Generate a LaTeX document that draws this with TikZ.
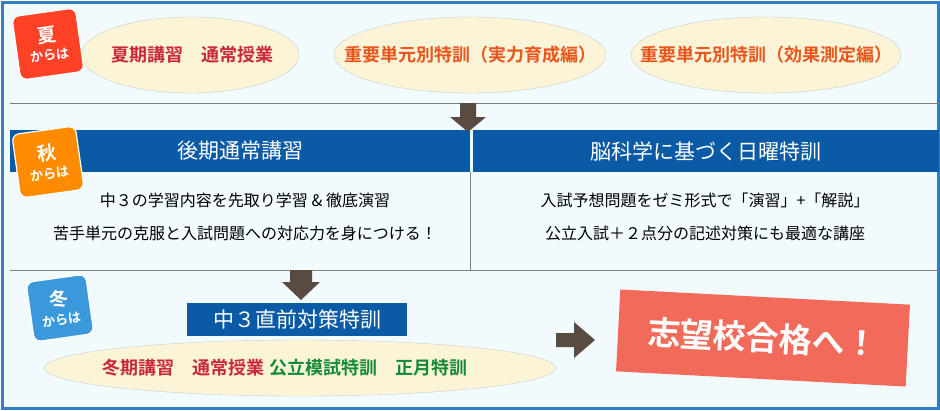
\documentclass[tikz,border=0pt]{standalone}
\usepackage{fontspec}
\newfontfamily\jp{Noto Sans CJK JP}[BoldFont={Noto Sans CJK JP Bold}]
\usetikzlibrary{shapes.geometric,positioning,calc}
\definecolor{bgblue}{HTML}{F1FAFD}
\definecolor{frameblue}{HTML}{2F7FC8}
\definecolor{barblue}{HTML}{0A5AA5}
\definecolor{cream}{HTML}{FCF4D6}
\definecolor{redtxt}{HTML}{C8283A}
\definecolor{orangetxt}{HTML}{E8551F}
\definecolor{greentxt}{HTML}{138A3A}
\definecolor{arrowbrown}{HTML}{594A42}
\definecolor{goalred}{HTML}{F26A5A}
\tikzset{
  oval/.style={fill=cream, draw=gray!40},
  ovaltext/.style={font=\jp\bfseries\fontsize{18}{18}\selectfont, inner sep=0pt},
  bar/.style={fill=barblue, text=white, font=\jp\fontsize{21}{21}\selectfont, inner sep=0pt},
  info/.style={font=\jp\fontsize{16}{16}\selectfont},
  badge/.style={rounded corners=7pt, minimum size=64pt, rotate=8, text=white, align=center, inner sep=0pt, font=\jp\bfseries\fontsize{19}{19}\selectfont, draw=white, line width=1.2pt},
  bigarrow/.style={fill=arrowbrown, draw=none},
}
\begin{document}
\begin{tikzpicture}[x=1pt,y=-1pt]
\useasboundingbox (0,0) rectangle (940,410);
\draw[frameblue, line width=3pt, fill=bgblue] (2,2) rectangle (938,408);
% summer
\path[oval] (190,55) ellipse (109 and 38);
\path[oval] (470,55) ellipse (136 and 38);
\path[oval] (766,55) ellipse (135 and 38);
\node[ovaltext, text=redtxt] (summer1) at (192,55) {夏期講習\quad 通常授業};
\node[ovaltext, text=orangetxt] (summer2) at (470,55) {重要単元別特訓（実力育成編）};
\node[ovaltext, text=orangetxt] (summer3) at (766,55) {重要単元別特訓（効果測定編）};
\node[badge, fill=red!75!orange!85] (natsu) at (48,44) {夏\\[-1pt]{\fontsize{13}{13}\selectfont からは}};
\draw[gray] (10,103) -- (940,103);
% autumn
\node[bar, minimum width=460pt, minimum height=42pt] (autumnL) at (240,151) {後期通常講習};
\node[bar, minimum width=466pt, minimum height=42pt] (autumnR) at (706,151) {脳科学に基づく日曜特訓};
\fill[bigarrow] (460,103) -- (476,103) -- (476,117) -- (486,117) -- (468,132) -- (450,117) -- (460,117) -- cycle;
\node[badge, fill=orange!90!yellow] (aki) at (48,162) {秋\\[-1pt]{\fontsize{13}{13}\selectfont からは}};
\node[info] (a1) at (245,200) {中３の学習内容を先取り学習 \& 徹底演習};
\node[info] (a2) at (245,233) {苦手単元の克服と入試問題への対応力を身につける！};
\node[info] (b1) at (705,200) {入試予想問題をゼミ形式で「演習」+「解説」};
\node[info] (b2) at (705,233) {公立入試＋２点分の記述対策にも最適な講座};
\draw[gray] (470,172) -- (470,270);
\draw[gray] (10,270) -- (940,270);
% winter
\fill[bigarrow] (290,270) -- (312,270) -- (312,282) -- (320,282) -- (301,300) -- (282,282) -- (290,282) -- cycle;
\node[bar, minimum width=220pt, minimum height=33pt] (winterbar) at (297,319) {中３直前対策特訓};
\node[badge, fill=cyan!70!blue!80, minimum size=60pt] (fuyu) at (60,308) {冬\\[-1pt]{\fontsize{13}{13}\selectfont からは}};
\path[oval] (300,368) ellipse (256 and 28);
\node[ovaltext] (winteroval) at (285,368) {\textcolor{redtxt}{冬期講習\quad 通常授業}\ \textcolor{greentxt}{公立模試特訓\quad 正月特訓}};
\fill[bigarrow] (556,333) -- (574,333) -- (574,322) -- (595,340) -- (574,358) -- (574,347) -- (556,347) -- cycle;
\node[fill=goalred, rotate=-3, minimum width=290pt, minimum height=82pt, text=white, font=\jp\bfseries\fontsize{33}{33}\selectfont] (goal) at (763,338) {志望校合格へ！};
\end{tikzpicture}
\end{document}
